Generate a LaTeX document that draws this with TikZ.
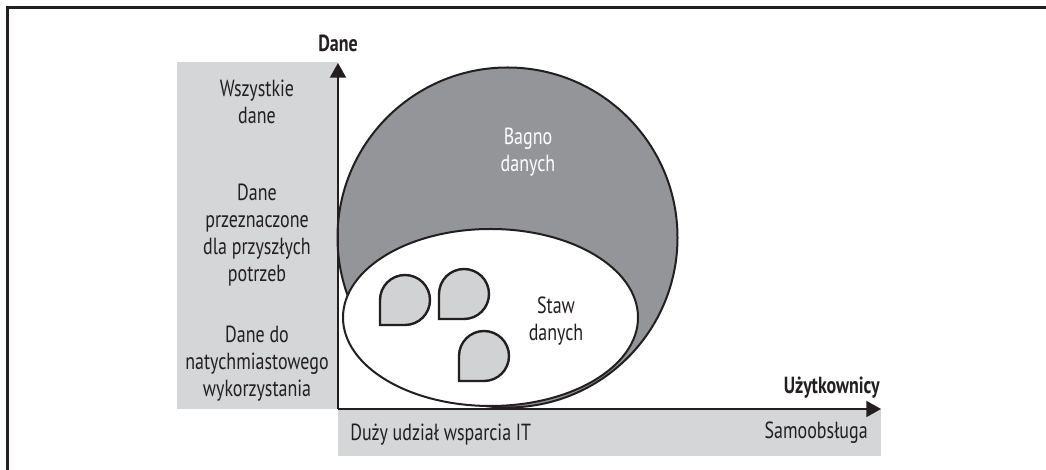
\documentclass[tikz,border=0pt]{standalone}
\usepackage{fontspec}
\setmainfont[FakeStretch=0.77]{PT Sans}
\usepackage{xcolor}
\usetikzlibrary{arrows.meta,positioning}

\definecolor{panelgray}{HTML}{D5D6D8}
\definecolor{swampgray}{HTML}{939598}
\definecolor{dropgray}{HTML}{D1D2D4}
\definecolor{ink}{HTML}{231F20}

\tikzset{
  txt/.style={align=center, text=ink, inner sep=0pt, font=\fontsize{17.5}{20.25}\selectfont},
  axislabel/.style={text=ink, inner sep=0pt, font=\bfseries\fontsize{17.5}{20.25}\selectfont},
  axisline/.style={draw=ink, line width=1.5pt, -{Triangle[length=11pt,width=12pt]}},
  dropshape/.style={draw=ink, fill=dropgray, line width=1.8pt},
}

% one data drop, bottom-left corner at (#1,#2)
\newcommand{\datadrop}[2]{%
  \draw[dropshape] (#1,#2) -- ++(0,25) arc[start angle=180, end angle=-90, radius=25] -- cycle;}

\begin{document}
\begin{tikzpicture}[x=0.75pt,y=0.75pt]
        \useasboundingbox (0,0) rectangle (1046,470);

        % Frame
        \draw[ink, line width=2pt] (7.5,0) -- (7.5,462.5) -- (1046,462.5);

        % Panels
        \fill[panelgray] (177,61) rectangle (338,408);
        \fill[panelgray] (338,14) rectangle (881,61);

        % Swamp and pond
        \draw[ink, line width=1.5pt, fill=swampgray] (507.5,232.5) circle[radius=170];
        \draw[ink, line width=1.5pt, fill=white] (490.5,152.5) ellipse[x radius=147.5, y radius=88.5];

        % Drops
        \datadrop{380}{145}
        \datadrop{439}{151}
        \datadrop{459}{89}

        % Axes
        \coordinate (origin) at (338,61);
        \coordinate (ytop) at (338,407);
        \coordinate (xend) at (881,61);
        \draw[axisline] (origin) -- (ytop);
        \draw[axisline] (origin) -- (xend);

        % Axis labels
        \node[axislabel] (dane) at (338,427) {Dane};
        \node[axislabel, anchor=east] (users) at (880,82) {Użytkownicy};

        % Data levels
        \node[txt] (alldata) at (257,368) {Wszystkie\\dane};
        \node[txt] (futuredata) at (257,234.5) {Dane\\przeznaczone\\dla przyszłych\\potrzeb};
        \node[txt] (nowdata) at (257,106.5) {Dane do\\natychmiastowego\\wykorzystania};

        % User levels
        \node[txt, anchor=west] (itsupport) at (350,35) {Duży udział wsparcia IT};
        \node[txt, anchor=east] (selfservice) at (868,37) {Samoobsługa};

        % Inside labels
        \node[txt, text=white] (swamp) at (528,318) {Bagno\\danych};
        \node[txt] (pond) at (556,148.5) {Staw\\danych};
    \end{tikzpicture}
\end{document}
